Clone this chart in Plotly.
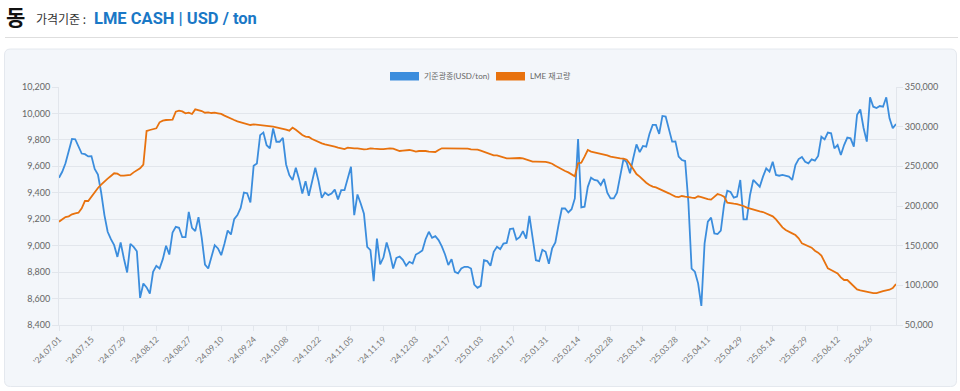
import pandas as pd
import plotly.graph_objects as go

# ---------------- data ----------------
holidays = ["2024-08-26", "2024-12-25", "2024-12-26", "2025-01-01",
            "2025-04-18", "2025-04-21", "2025-05-05", "2025-05-26"]
n_days = 259
dates = pd.bdate_range(start="2024-07-01", periods=n_days, freq="C", holidays=holidays)
categories = ["'" + d.strftime("%y.%m.%d") for d in dates]

copper_price = [
    9514, 9559, 9623, 9723, 9807, 9805, 9748, 9697, 9692, 9675,
    9677, 9580, 9538, 9402, 9231, 9105, 9049, 9004, 8915, 9024,
    8903, 8797, 9014, 8991, 8958, 8605, 8714, 8684, 8638, 8802,
    8847, 8827, 8898, 8999, 8933, 9100, 9142, 9135, 9064, 9064,
    9256, 9135, 9110, 9216, 9059, 8857, 8827, 8908, 9004, 8979,
    8928, 9014, 9115, 9084, 9201, 9231, 9286, 9402, 9397, 9327,
    9604, 9622, 9836, 9856, 9760, 9735, 9887, 9786, 9786, 9816,
    9614, 9533, 9496, 9589, 9503, 9395, 9488, 9377, 9478, 9589,
    9488, 9362, 9402, 9382, 9394, 9424, 9350, 9420, 9420, 9508,
    9596, 9231, 9387, 9319, 9241, 8991, 8966, 8731, 9054, 8858,
    8910, 9024, 8941, 8827, 8908, 8918, 8893, 8848, 8878, 8865,
    8933, 8946, 8964, 9049, 9105, 9059, 9072, 9042, 8994, 8933,
    8853, 8898, 8802, 8790, 8827, 8840, 8840, 8827, 8706, 8681,
    8696, 8890, 8883, 8848, 8954, 8991, 8974, 9016, 9021, 9125,
    9130, 9047, 9064, 9110, 9054, 9226, 9054, 8890, 8883, 8969,
    8954, 8863, 8979, 9024, 9160, 9281, 9281, 9251, 9276, 9357,
    9806, 9290, 9295, 9445, 9514, 9497, 9492, 9459, 9504, 9401,
    9358, 9358, 9401, 9527, 9655, 9630, 9547, 9661, 9766, 9708,
    9754, 9749, 9845, 9913, 9913, 9845, 9981, 9976, 9880, 9787,
    9789, 9673, 9648, 9640, 9330, 8826, 8803, 8715, 8545, 9018,
    9182, 9212, 9093, 9088, 9114, 9308, 9416, 9406, 9363, 9371,
    9497, 9199, 9199, 9383, 9497, 9471, 9446, 9522, 9585, 9560,
    9635, 9535, 9529, 9535, 9527, 9522, 9497, 9610, 9655, 9671,
    9635, 9623, 9653, 9643, 9678, 9824, 9804, 9855, 9850, 9736,
    9761, 9686, 9761, 9817, 9812, 9749, 9990, 10030, 9890, 9787,
    10122, 10051, 10041, 10056, 10051, 10122, 9963, 9888, 9920,
]

lme_stock = [
    180200, 183600, 186100, 187000, 189500, 190800, 191500, 197000, 206300, 206300,
    211800, 217600, 222700, 226900, 231100, 234500, 237800, 241200, 240700, 238200,
    238200, 239100, 239100, 242400, 245400, 247500, 252100, 294500, 295800, 297100,
    297900, 305500, 307600, 308400, 308800, 308800, 318900, 320200, 319300, 316800,
    317600, 316000, 321800, 321000, 319700, 317600, 318100, 317200, 317600, 316800,
    316000, 313900, 311800, 310100, 308400, 306700, 305500, 304200, 302900, 302100,
    302900, 302500, 302100, 301700, 300800, 300000, 300000, 299200, 297900, 297500,
    296200, 295000, 298700, 296200, 292900, 289500, 287400, 287000, 284500, 282400,
    280700, 279000, 277700, 276900, 275600, 274800, 273500, 272300, 271800, 273500,
    272700, 272700, 272700, 271800, 271400, 271800, 272700, 272300, 271800, 271800,
    271800, 272300, 272700, 272300, 270600, 269300, 269700, 270200, 270600, 269700,
    268500, 269300, 269700, 269300, 268500, 268100, 268100, 270600, 272700, 272700,
    272700, 272700, 272700, 272700, 272700, 272300, 272300, 271400, 271400, 271000,
    269700, 268500, 266800, 265100, 263900, 263900, 262600, 261300, 260100, 260100,
    260500, 260500, 260500, 260100, 258800, 257100, 255900, 255900, 255900, 255900,
    255500, 254600, 253300, 250800, 248300, 246600, 244100, 242400, 239900, 237400,
    253800, 254600, 262200, 270600, 268500, 267600, 267200, 266400, 265100, 263900,
    262200, 261300, 260900, 260100, 259700, 258400, 253000, 246200, 240300, 237000,
    232800, 229400, 226500, 224400, 223500, 221800, 220100, 218100, 216000, 213900,
    211800, 211300, 212600, 211800, 210900, 210500, 210100, 212200, 211300, 209700,
    208800, 208000, 211800, 215100, 213900, 211800, 204200, 203300, 202900, 202500,
    201700, 200000, 197900, 196600, 195400, 194100, 193300, 192400, 190300, 188600,
    187000, 183200, 178100, 173100, 169700, 167200, 165500, 163400, 159200, 152900,
    151200, 149600, 147500, 143700, 141200, 137400, 129800, 121400, 119300, 117600,
    115100, 110100, 106700, 106700, 102500, 98700, 94900, 93700, 92800, 92000,
    91100, 90300, 90300, 91100, 92800, 93700, 94500, 96600, 101700,
]

left_ticks = [8400, 8600, 8800, 9000, 9200, 9400, 9600, 9800, 10000, 10200]
right_ticks = [50000, 100000, 150000, 200000, 250000, 300000, 350000]
x_tick_labels = categories[::10]

series_names = ["기준광종(USD/ton)", "LME 재고량"]
title_main = "동"
title_sub = "가격기준 :"
title_unit = "LME CASH | USD / ton"

# ---------------- styling ----------------
W, H = 960, 391
ML, MR, MT, MB = 59, 64, 87, 66
PW, PH = W - ML - MR, H - MT - MB
BLUE = "#3b8ddd"
ORANGE = "#e8720e"
GRID = "#e2e6ec"
TICKC = "#666666"
FONT = "Lato, 'Noto Sans CJK KR', sans-serif"


def px(x):
    return (x - ML) / PW


def py(y):
    return (H - MB - y) / PH


fig = go.Figure()
fig.add_trace(go.Scatter(x=categories, y=copper_price, name=series_names[0], mode="lines",
                         line=dict(color=BLUE, width=1.8), yaxis="y"))
fig.add_trace(go.Scatter(x=categories, y=lme_stock, name=series_names[1], mode="lines",
                         line=dict(color=ORANGE, width=1.8), yaxis="y2"))

# card background with rounded corners
x0, x1, y0, y1, r = 4.5, 956.5, 49, 386.5, 6
path = (f"M {px(x0 + r)},{py(y0)} L {px(x1 - r)},{py(y0)} "
        f"Q {px(x1)},{py(y0)} {px(x1)},{py(y0 + r)} L {px(x1)},{py(y1 - r)} "
        f"Q {px(x1)},{py(y1)} {px(x1 - r)},{py(y1)} L {px(x0 + r)},{py(y1)} "
        f"Q {px(x0)},{py(y1)} {px(x0)},{py(y1 - r)} L {px(x0)},{py(y0 + r)} "
        f"Q {px(x0)},{py(y0)} {px(x0 + r)},{py(y0)} Z")
shapes = [
    dict(type="path", path=path, xref="paper", yref="paper", layer="below",
         fillcolor="#f3f6fa", line=dict(color="#e4e8ee", width=1)),
    dict(type="line", xref="paper", yref="paper", x0=px(5), x1=px(958), y0=py(37.5), y1=py(37.5),
         line=dict(color="#dedede", width=1)),
    # legend swatches
    dict(type="rect", xref="paper", yref="paper", x0=px(390), x1=px(419), y0=py(80.5), y1=py(72),
         fillcolor=BLUE, line=dict(width=0)),
    dict(type="rect", xref="paper", yref="paper", x0=px(496), x1=px(525), y0=py(80.5), y1=py(72),
         fillcolor=ORANGE, line=dict(width=0)),
]

annotations = [
    dict(text=f"<b>{title_main}</b>", x=px(4), y=py(16), xref="paper", yref="paper",
         xanchor="left", yanchor="middle", showarrow=False,
         font=dict(size=21, color="#111111", family="'Noto Sans CJK KR', sans-serif")),
    dict(text=title_sub, x=px(34), y=py(19), xref="paper", yref="paper",
         xanchor="left", yanchor="middle", showarrow=False,
         font=dict(size=12, color="#333333", family="'Noto Sans CJK KR', sans-serif")),
    dict(text=f"<b>{title_unit}</b>", x=px(92), y=py(18.5), xref="paper", yref="paper",
         xanchor="left", yanchor="middle", showarrow=False,
         font=dict(size=16.5, color="#1a78c6", family="Roboto, 'Noto Sans CJK KR', sans-serif")),
    dict(text=series_names[0], x=px(422), y=py(76.5), xref="paper", yref="paper",
         xanchor="left", yanchor="middle", showarrow=False,
         font=dict(size=8, color="#666666", family=FONT)),
    dict(text=series_names[1], x=px(528), y=py(76.5), xref="paper", yref="paper",
         xanchor="left", yanchor="middle", showarrow=False,
         font=dict(size=8, color="#666666", family=FONT)),
]

fig.update_layout(
    width=W, height=H,
    margin=dict(l=ML, r=MR, t=MT, b=MB, pad=0),
    paper_bgcolor="white",
    plot_bgcolor="rgba(0,0,0,0)",
    showlegend=False,
    shapes=shapes,
    annotations=annotations,
    font=dict(family=FONT, color=TICKC),
    xaxis=dict(
        type="category", range=[0, n_days - 1],
        tickmode="array", tickvals=x_tick_labels, ticktext=x_tick_labels,
        tickangle=-45, tickfont=dict(size=8.5, color="#777777"),
        showgrid=False, showline=True, linecolor=GRID, linewidth=1,
        ticks="outside", ticklen=5, tickcolor=GRID, zeroline=False,
    ),
    yaxis=dict(
        range=[8400, 10200], tickvals=left_ticks, tickformat=",",
        tickfont=dict(size=9, color=TICKC),
        showgrid=True, gridcolor=GRID, gridwidth=1,
        showline=True, linecolor=GRID, linewidth=1,
        ticks="outside", ticklen=6, tickcolor=GRID, zeroline=False,
    ),
    yaxis2=dict(
        range=[50000, 350000], tickvals=right_ticks, tickformat=",",
        overlaying="y", side="right",
        tickfont=dict(size=9, color=TICKC),
        showgrid=False, showline=True, linecolor=GRID, linewidth=1,
        ticks="outside", ticklen=6, tickcolor=GRID, zeroline=False,
    ),
)

fig.write_html(
    "out.html",
    config={"displayModeBar": False},
    post_script="document.body.style.margin='0';document.body.style.overflow='hidden';",
)
